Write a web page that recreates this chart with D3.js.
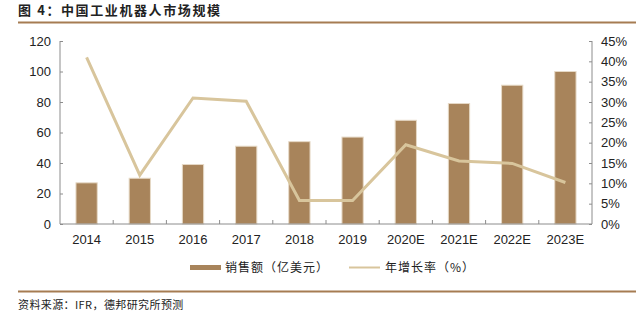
<!DOCTYPE html>
<html><head><meta charset="utf-8">
<script src="https://cdn.jsdelivr.net/npm/d3@7"></script>
<style>body{margin:0;background:#fff;}svg{display:block;}</style>
</head><body>
<svg id="c" width="636" height="326"></svg>
<script>
const categories = ["2014","2015","2016","2017","2018","2019","2020E","2021E","2022E","2023E"];
const sales = [27, 30, 39, 51, 54, 57, 68, 79, 91, 100];
const growth = [41.0, 12.0, 31.0, 30.2, 5.8, 5.8, 19.5, 15.5, 14.9, 10.2];
const leftTicks = [0, 20, 40, 60, 80, 100, 120];
const rightTicks = [0, 5, 10, 15, 20, 25, 30, 35, 40, 45];

const svg = d3.select("#c");
const font = "'Liberation Sans', Arial, sans-serif";
const cjk = "'Noto Sans CJK SC', sans-serif";
const L = 60, R = 592, T = 41, B = 224;
const axisColor = "#8c8c8c";

const x = d3.scaleBand().domain(categories).range([L, R]).paddingInner(0.6).paddingOuter(0.3);
const xc = d3.scaleBand().domain(categories).range([L, R]);
const yL = d3.scaleLinear().domain([0, 120]).range([B, T]);
const yR = d3.scaleLinear().domain([0, 45]).range([B, T]);

// title
svg.append("text").attr("x", 18).attr("y", 15).attr("font-family", cjk).attr("font-weight", "bold")
  .attr("font-size", 13).attr("letter-spacing", 1.6).attr("fill", "#222").text("图 4：中国工业机器人市场规模");
svg.append("line").attr("x1", 18).attr("x2", 636).attr("y1", 22.5).attr("y2", 22.5)
  .attr("stroke", "#a67c52").attr("stroke-width", 2);

// bars
svg.append("g").selectAll("rect").data(sales).join("rect")
  .attr("x", (d, i) => x(categories[i]))
  .attr("y", d => yL(d))
  .attr("width", x.bandwidth())
  .attr("height", d => B - yL(d))
  .attr("fill", "#a8845b")
  .attr("stroke", "#e6d9c6").attr("stroke-width", 1);

// axes
const gL = svg.append("g").attr("transform", `translate(${L},0)`)
  .call(d3.axisLeft(yL).tickValues(leftTicks).tickSize(-3).tickPadding(9));
const gR = svg.append("g").attr("transform", `translate(${R},0)`)
  .call(d3.axisRight(yR).tickValues(rightTicks).tickSize(-3).tickPadding(9).tickFormat(d => d + "%"));
const gX = svg.append("g").attr("transform", `translate(0,${B})`)
  .call(d3.axisBottom(xc).tickSize(0).tickPadding(11));
// category separator ticks
svg.append("g").selectAll("line").data(categories.slice(1)).join("line")
  .attr("x1", d => xc(d)).attr("x2", d => xc(d)).attr("y1", B).attr("y2", B - 4)
  .attr("stroke", axisColor);

[gL, gR, gX].forEach(g => {
  g.selectAll(".domain").attr("stroke", axisColor);
  g.selectAll(".tick line").attr("stroke", axisColor);
  g.selectAll("text").attr("font-family", font).attr("font-size", 13).attr("fill", "#222");
});
gL.select(".domain").attr("d", `M0,${T}V${B}`);
gR.select(".domain").attr("d", `M0,${T}V${B}`);
gX.select(".domain").attr("d", `M${L},0H${R}`);

// line
const line = d3.line().x((d, i) => xc(categories[i]) + xc.bandwidth() / 2).y(d => yR(d));
svg.append("path").datum(growth).attr("d", line).attr("fill", "none")
  .attr("stroke", "#d8c59c").attr("stroke-width", 3);

// legend
const lg = svg.append("g");
lg.append("rect").attr("x", 190).attr("y", 265).attr("width", 31).attr("height", 5).attr("fill", "#a8845b");
lg.append("text").attr("x", 225).attr("y", 272).attr("font-family", cjk).attr("font-size", 12).attr("letter-spacing", 1).attr("fill", "#222").text("销售额（亿美元）");
lg.append("line").attr("x1", 349).attr("x2", 380).attr("y1", 267.5).attr("y2", 267.5).attr("stroke", "#d8c59c").attr("stroke-width", 2);
lg.append("text").attr("x", 385).attr("y", 272).attr("font-family", cjk).attr("font-size", 12).attr("letter-spacing", 1).attr("fill", "#222").text("年增长率（%）");

// footer
svg.append("line").attr("x1", 18).attr("x2", 636).attr("y1", 291.5).attr("y2", 291.5)
  .attr("stroke", "#a67c52").attr("stroke-width", 2);
svg.append("text").attr("x", 18).attr("y", 309).attr("font-family", cjk).attr("font-size", 11).attr("letter-spacing", 0.4).attr("fill", "#222").text("资料来源：IFR，德邦研究所预测");
</script>
</body></html>
